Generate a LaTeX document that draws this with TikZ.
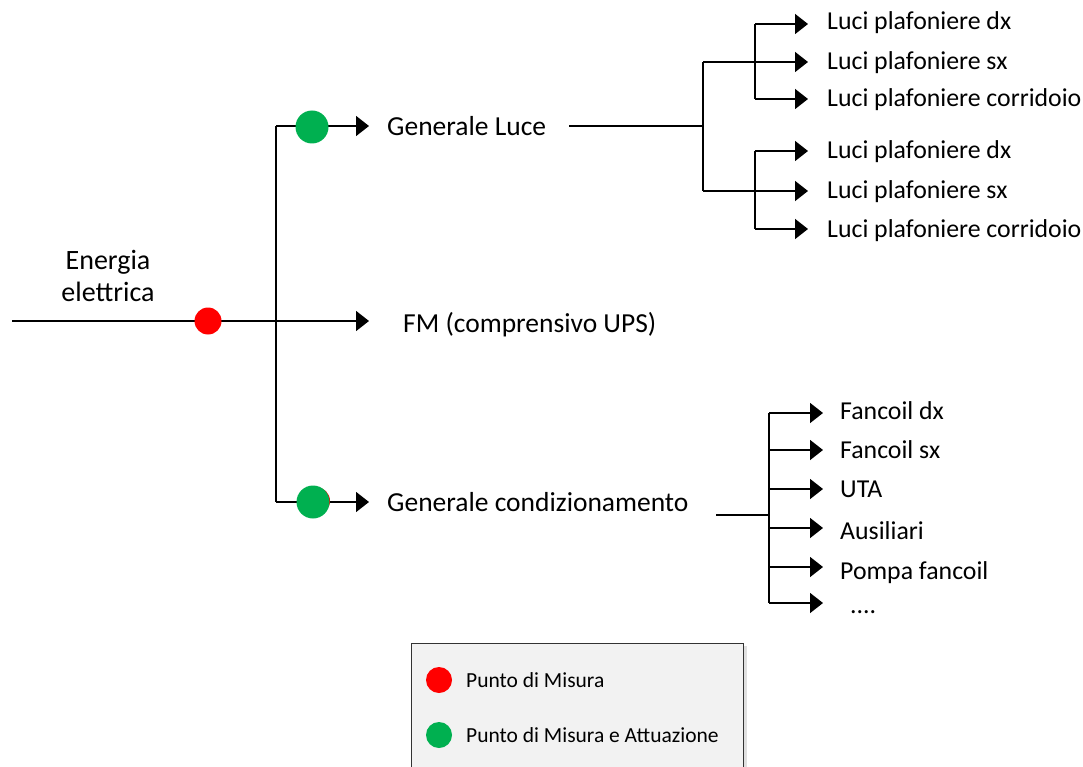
\documentclass[tikz,border=0pt]{standalone}
\usepackage{fontspec}
\setmainfont{Carlito}
\usetikzlibrary{arrows.meta,shadows}
\definecolor{mred}{HTML}{FF0000}
\definecolor{mgreen}{HTML}{00B050}
\definecolor{legfill}{HTML}{F2F2F2}
\tikzset{
  wire/.style={line width=1.6pt,black},
  feed/.style={wire,-{Triangle[length=13pt,width=20pt]}},
  dotbase/.style={circle,inner sep=0pt,outer sep=0pt,draw=none},
  reddot/.style={dotbase,fill=mred,minimum size=27pt},
  greendot/.style={dotbase,fill=mgreen,minimum size=33pt},
  legdot/.style={dotbase,minimum size=26pt},
  big/.style={anchor=base west,inner sep=0pt,font=\fontsize{27.5}{33}\selectfont},
  item/.style={anchor=base west,inner sep=0pt,font=\fontsize{25.8}{31}\selectfont},
  legtxt/.style={anchor=base west,inner sep=0pt,font=\fontsize{21.5}{26}\selectfont},
}
\begin{document}
\begin{tikzpicture}[x=1pt,y=-1pt]
\useasboundingbox (0,0) rectangle (1083,767);

% ---- main supply and distribution bus ----
\coordinate (in) at (12,321);
\coordinate (bus) at (276,321);
\coordinate (busT) at (276,126);
\coordinate (busB) at (276,502);
\coordinate (tipL) at (369,126);
\coordinate (tipF) at (369,321);
\coordinate (tipC) at (369,502);

\node[align=center,inner sep=0pt,font=\fontsize{28}{32}\selectfont] (energy) at (108,276) {Energia\\elettrica};

\draw[feed] (in) -- (tipF);
\draw[wire] (busT) -- (busB);
\draw[feed] (busT) -- (tipL);
\draw[feed] (busB) -- (tipC);

\node[reddot] (m0) at (208,321) {};
\node[greendot] (m1) at (312,127) {};
\node[reddot,minimum size=28pt] (m2r) at (316,501) {};
\node[greendot] (m2) at (313,502) {};

\node[big] (gl) at (387,136) {Generale Luce};
\node[big] (fm) at (403,332) {FM (comprensivo UPS)};
\node[big] (gc) at (387,511) {Generale condizionamento};

% ---- lighting circuits ----
\coordinate (gl0) at (569,126);
\coordinate (gl1) at (703,126);
\coordinate (glT) at (703,62);
\coordinate (glB) at (703,191);
\coordinate (s1a) at (755,24);
\coordinate (s1c) at (755,99);
\coordinate (s2a) at (755,151);
\coordinate (s2c) at (755,229);

\draw[wire] (gl0) -- (gl1);
\draw[wire] (glT) -- (glB);
\draw[wire] (s1a) -- (s1c);
\draw[wire] (s2a) -- (s2c);
\draw[feed] (s1a) -- (808,24);
\draw[feed] (glT) -- (808,62);
\draw[feed] (s1c) -- (808,99);
\draw[feed] (s2a) -- (808,151);
\draw[feed] (glB) -- (808,191);
\draw[feed] (s2c) -- (808,229);

\node[item] (l1) at (827,30) {Luci plafoniere dx};
\node[item] (l2) at (827,70) {Luci plafoniere sx};
\node[item] (l3) at (827,107) {Luci plafoniere corridoio};
\node[item] (l4) at (827,159) {Luci plafoniere dx};
\node[item] (l5) at (827,199) {Luci plafoniere sx};
\node[item] (l6) at (827,237) {Luci plafoniere corridoio};

% ---- air conditioning circuits ----
\coordinate (gc0) at (716,515);
\coordinate (gc1) at (769,515);
\coordinate (cT) at (769,413);
\coordinate (cB) at (769,603);
\draw[wire] (gc0) -- (gc1);
\draw[wire] (cT) -- (cB);
\foreach \yy in {413,450,489,528,567,603}
  \draw[feed] (769,\yy) -- (823,\yy);

\node[item] (c1) at (840,419) {Fancoil dx};
\node[item] (c2) at (840,458) {Fancoil sx};
\node[item] (c3) at (840,497) {UTA};
\node[item] (c4) at (840,539) {Ausiliari};
\node[item] (c5) at (840,579) {Pompa fancoil};
\node[item] (c6) at (850,613) {....};

% ---- legend ----
\begin{scope}
\clip (0,0) rectangle (1083,767);
\draw[draw=black!80,line width=1pt,fill=legfill,
      drop shadow={shadow xshift=4pt,shadow yshift=-3pt,fill=black,opacity=0.12}]
  (411,643) rectangle (743,800);
\end{scope}
\node[legdot,fill=mred] (k1) at (439,680) {};
\node[legdot,fill=mgreen] (k2) at (439,735) {};
\node[legtxt] (t1) at (466,687) {Punto di Misura};
\node[legtxt] (t2) at (466,742) {Punto di Misura e Attuazione};
\end{tikzpicture}
\end{document}
